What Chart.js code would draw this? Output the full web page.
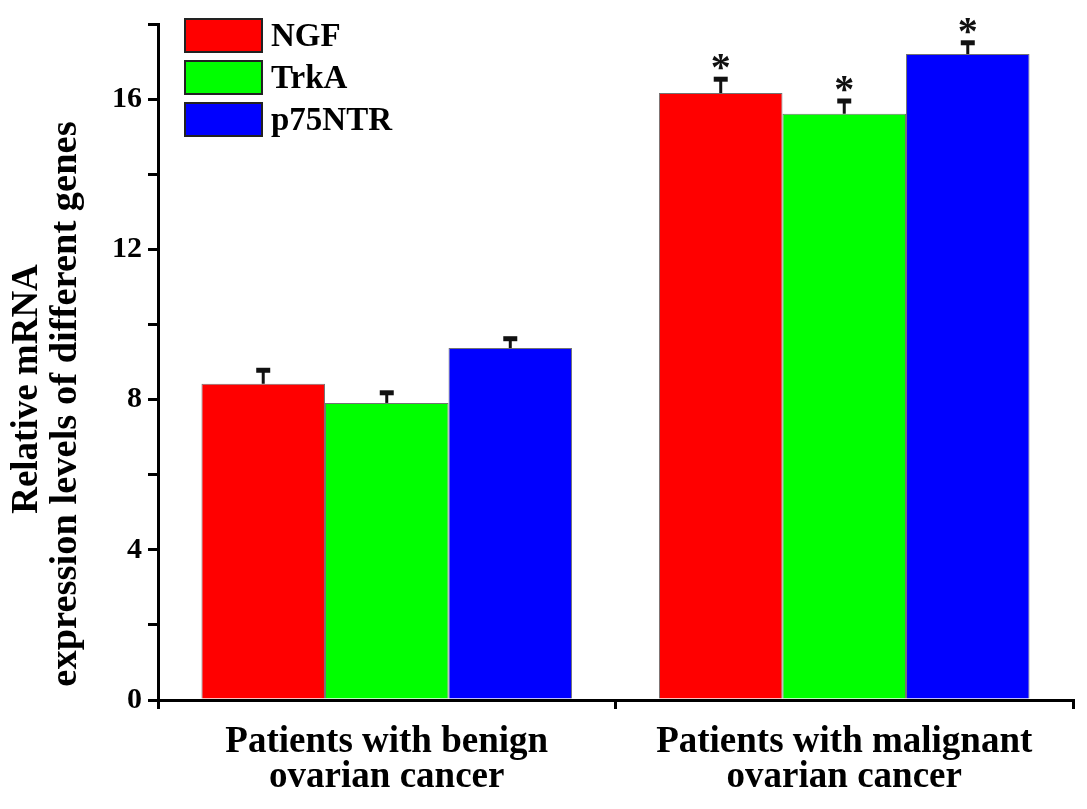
<!DOCTYPE html>
<html lang="en">
<head>
  <meta charset="UTF-8">
  <title>NGF / TrkA / p75NTR mRNA levels</title>
  <script src="https://cdn.jsdelivr.net/npm/chart.js"></script>
  <style>
    body {
      margin: 0;
      background: #fff;
    }

    #chart-container {
      width: 1087px;
      height: 809px;
    }
  </style>
</head>
<body>
  <div id="chart-container">
    <canvas id="mrnaChart"></canvas>
  </div>

  <script>
    // values
    const groups = [
      ['Patients with benign', 'ovarian cancer'],
      ['Patients with malignant', 'ovarian cancer']
    ];
    const genes = ['NGF', 'TrkA', 'p75NTR'];
    const colors = ['#ff0000', '#00ff00', '#0000ff'];

    const ngfMean = [8.42, 16.16];
    const trkaMean = [7.91, 15.61];
    const p75Mean = [9.37, 17.2];

    const ngfErr = [0.36, 0.37];
    const trkaErr = [0.27, 0.34];
    const p75Err = [0.25, 0.3];

    const significant = [false, true];

    const yTitle = ['Relative mRNA', 'expression levels of different genes'];

    const means = [ngfMean, trkaMean, p75Mean];
    const errs = [ngfErr, trkaErr, p75Err];

    const serif = "'Liberation Serif', 'Times New Roman', serif";

    // error bars + asterisks on top of the bars
    const errorBars = {
      id: 'errorBars',
      afterDatasetsDraw(chart) {
        const ctx = chart.ctx;
        const y = chart.scales.y;
        ctx.save();
        chart.data.datasets.forEach((ds, di) => {
          const meta = chart.getDatasetMeta(di);
          meta.data.forEach((bar, i) => {
            const top = y.getPixelForValue(means[di][i] + errs[di][i]);
            ctx.strokeStyle = '#111';
            ctx.lineWidth = 3;
            ctx.beginPath();
            ctx.moveTo(bar.x, bar.y);
            ctx.lineTo(bar.x, top);
            ctx.stroke();
            ctx.lineWidth = 5;
            ctx.beginPath();
            ctx.moveTo(bar.x - 7, top);
            ctx.lineTo(bar.x + 7, top);
            ctx.stroke();
            if (significant[i]) {
              ctx.fillStyle = '#111';
              ctx.font = 'bold 40px ' + serif;
              ctx.textAlign = 'center';
              ctx.textBaseline = 'alphabetic';
              ctx.fillText('*', bar.x, top + 1);
            }
          });
        });
        ctx.restore();
      }
    };

    // legend inside the plot (top left) and the rotated y title
    const extras = {
      id: 'extras',
      afterDraw(chart) {
        const ctx = chart.ctx;
        ctx.save();
        genes.forEach((g, i) => {
          const yTop = 19 + i * 42;
          ctx.fillStyle = colors[i];
          ctx.fillRect(185, yTop, 77, 33);
          ctx.strokeStyle = '#222';
          ctx.lineWidth = 2;
          ctx.strokeRect(185, yTop, 77, 33);
          ctx.fillStyle = '#000';
          ctx.font = 'bold 33px ' + serif;
          ctx.textAlign = 'left';
          ctx.textBaseline = 'middle';
          ctx.fillText(g, 271, yTop + 18);
        });

        ctx.rotate(-Math.PI / 2);
        ctx.textAlign = 'center';
        ctx.textBaseline = 'middle';
        ctx.font = 'bold 37px ' + serif;
        ctx.fillText(yTitle[0], -389, 27);
        ctx.font = 'bold 38.5px ' + serif;
        ctx.fillText(yTitle[1], -404, 66);
        ctx.restore();
      }
    };

    const ctx = document.getElementById('mrnaChart').getContext('2d');

    new Chart(ctx, {
      type: 'bar',
      data: {
        labels: groups,
        datasets: genes.map((g, i) => ({
          label: g,
          data: means[i],
          backgroundColor: colors[i],
          borderColor: 'rgba(0,0,0,0.55)',
          borderWidth: 1,
          borderSkipped: 'bottom',
          barPercentage: 1,
          categoryPercentage: 0.81
        }))
      },
      options: {
        responsive: true,
        maintainAspectRatio: false,
        animation: false,
        layout: {
          padding: { top: 20, right: 14, left: 0, bottom: 0 }
        },
        plugins: {
          legend: { display: false },
          tooltip: { enabled: false }
        },
        scales: {
          x: {
            offset: true,
            grid: {
              offset: true,
              drawOnChartArea: false,
              drawTicks: true,
              tickLength: 9,
              color: '#000',
              lineWidth: 3
            },
            border: { display: true, color: '#000', width: 3 },
            ticks: {
              color: '#000',
              padding: 16,
              font: { family: serif, size: 37, weight: 'bold', lineHeight: 0.95 }
            },
            afterFit(scale) { scale.height = 109; }
          },
          y: {
            min: 0,
            max: 18,
            grid: {
              drawOnChartArea: false,
              drawTicks: true,
              tickLength: 10,
              color: '#000',
              lineWidth: 3
            },
            border: { display: true, color: '#000', width: 3 },
            ticks: {
              stepSize: 2,
              color: '#000',
              padding: 6,
              font: { family: serif, size: 30, weight: 'bold' },
              callback: v => (v % 4 === 0 ? v : '')
            },
            afterFit(scale) { scale.width = 158; }
          }
        }
      },
      plugins: [errorBars, extras]
    });
  </script>
</body>
</html>
